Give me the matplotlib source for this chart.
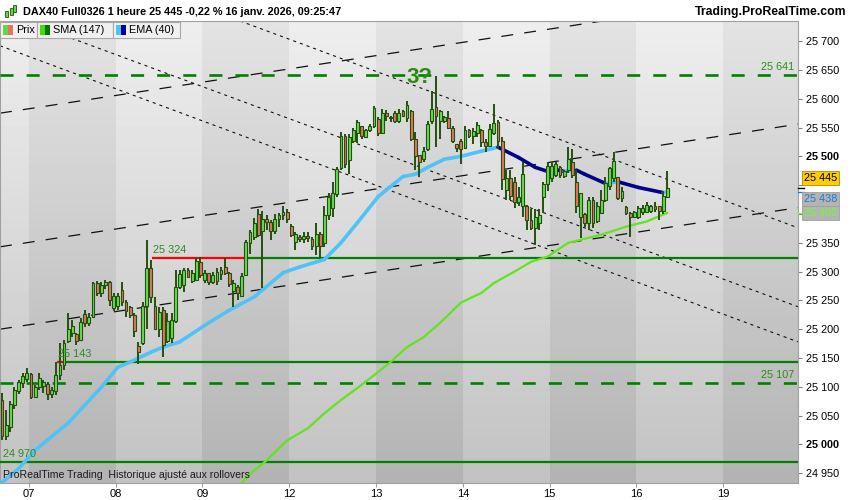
import numpy as np
import matplotlib.pyplot as plt
import matplotlib.transforms as mtransforms
from matplotlib.collections import LineCollection
from matplotlib.patches import Rectangle

plt.rcParams['font.family'] = ['Liberation Sans', 'DejaVu Sans']
plt.rcParams['lines.scale_dashes'] = False

# ---- data : DAX40 Full0326, 1 hour candles (bar 0 = last bars of 06 janv.) ----
day_labels = ['07', '08', '09', '12', '13', '14', '15', '16', '19']
bars_per_day = 21
bars_before_first_day = 7

opens = [25077, 25014, 25030, 25068, 25092, 25106, 25114, 25122, 25083, 25099,
         25102, 25104, 25088, 25092, 25120, 25138, 25180, 25194, 25192, 25182,
         25226, 25210, 25222, 25280, 25262, 25276, 25282, 25236, 25240, 25268,
         25248, 25238, 25224, 25170, 25176, 25240, 25306, 25240, 25200, 25233,
         25180, 25184, 25214, 25274, 25276, 25303, 25284, 25286, 25317, 25286,
         25298, 25282, 25284, 25296, 25308, 25298, 25266, 25274, 25258, 25294,
         25350, 25360, 25400, 25370, 25392, 25386, 25370, 25392, 25398, 25404,
         25380, 25352, 25360, 25356, 25362, 25356, 25344, 25366, 25350, 25398,
         25410, 25434, 25480, 25535, 25494, 25527, 25540, 25552, 25534, 25545,
         25552, 25565, 25540, 25576, 25566, 25576, 25562, 25578, 25566, 25578,
         25530, 25503, 25495, 25512, 25561, 25585, 25561, 25561, 25566, 25550,
         25521, 25526, 25514, 25545, 25535, 25540, 25545, 25525, 25518, 25540,
         25560, 25526, 25442, 25462, 25455, 25420, 25413, 25414, 25390, 25376,
         25385, 25430, 25452, 25462, 25468, 25482, 25466, 25477, 25490, 25455,
         25395, 25400, 25385, 25425, 25388, 25402, 25425, 25448, 25462, 25465,
         25428, 25412, 25402, 25394, 25394, 25404, 25404, 25406, 25414, 25413,
         25405, 25430]
highs = [25090, 25060, 25075, 25100, 25112, 25124, 25132, 25124, 25103, 25124,
         25112, 25108, 25100, 25143, 25176, 25182, 25228, 25216, 25194, 25220,
         25233, 25228, 25282, 25284, 25282, 25286, 25284, 25262, 25262, 25282,
         25250, 25240, 25228, 25178, 25248, 25355, 25320, 25256, 25238, 25238,
         25228, 25228, 25303, 25303, 25306, 25306, 25303, 25324, 25326, 25303,
         25298, 25300, 25306, 25308, 25324, 25300, 25286, 25277, 25298, 25355,
         25373, 25393, 25408, 25405, 25399, 25390, 25400, 25402, 25413, 25408,
         25383, 25368, 25364, 25368, 25368, 25360, 25385, 25369, 25413, 25437,
         25456, 25482, 25542, 25538, 25538, 25550, 25564, 25552, 25547, 25556,
         25587, 25568, 25582, 25580, 25570, 25578, 25582, 25580, 25596, 25580,
         25543, 25503, 25516, 25561, 25613, 25639, 25580, 25570, 25578, 25552,
         25521, 25530, 25552, 25547, 25550, 25560, 25547, 25530, 25556, 25591,
         25564, 25533, 25477, 25477, 25465, 25447, 25490, 25416, 25408, 25408,
         25408, 25455, 25490, 25491, 25491, 25483, 25477, 25516, 25512, 25477,
         25437, 25402, 25430, 25430, 25420, 25442, 25465, 25482, 25507, 25465,
         25447, 25413, 25403, 25405, 25413, 25416, 25420, 25416, 25420, 25413,
         25440, 25474]
lows = [25007, 25007, 25022, 25062, 25088, 25098, 25108, 25078, 25080, 25094,
        25090, 25077, 25081, 25085, 25112, 25130, 25176, 25186, 25172, 25180,
        25204, 25206, 25220, 25258, 25256, 25270, 25240, 25232, 25233, 25240,
        25222, 25220, 25186, 25139, 25172, 25200, 25245, 25199, 25186, 25152,
        25176, 25176, 25210, 25270, 25265, 25288, 25280, 25284, 25289, 25280,
        25277, 25278, 25277, 25286, 25294, 25274, 25238, 25251, 25256, 25292,
        25330, 25355, 25360, 25272, 25373, 25355, 25365, 25378, 25390, 25385,
        25360, 25338, 25352, 25350, 25352, 25338, 25329, 25326, 25343, 25390,
        25395, 25430, 25476, 25480, 25469, 25524, 25524, 25530, 25533, 25542,
        25550, 25535, 25538, 25562, 25560, 25558, 25558, 25568, 25560, 25526,
        25477, 25465, 25490, 25510, 25556, 25517, 25530, 25558, 25547, 25524,
        25507, 25486, 25512, 25532, 25521, 25533, 25516, 25507, 25516, 25537,
        25512, 25442, 25425, 25425, 25411, 25413, 25395, 25373, 25373, 25347,
        25373, 25402, 25440, 25455, 25465, 25463, 25463, 25472, 25463, 25402,
        25358, 25378, 25373, 25376, 25385, 25400, 25420, 25442, 25455, 25425,
        25420, 25399, 25360, 25394, 25392, 25399, 25402, 25402, 25404, 25390,
        25400, 25428]
closes = [25014, 25033, 25070, 25094, 25108, 25118, 25124, 25083, 25099, 25116,
          25108, 25088, 25094, 25120, 25138, 25176, 25200, 25205, 25180, 25212,
          25210, 25222, 25280, 25262, 25276, 25282, 25250, 25258, 25258, 25248,
          25232, 25224, 25196, 25160, 25240, 25306, 25256, 25200, 25230, 25172,
          25215, 25216, 25274, 25296, 25303, 25291, 25298, 25318, 25294, 25298,
          25282, 25294, 25300, 25302, 25298, 25278, 25280, 25262, 25292, 25352,
          25368, 25385, 25364, 25392, 25386, 25370, 25392, 25398, 25404, 25392,
          25364, 25366, 25356, 25362, 25358, 25344, 25366, 25345, 25398, 25430,
          25436, 25478, 25535, 25486, 25534, 25545, 25560, 25536, 25545, 25552,
          25584, 25540, 25576, 25570, 25568, 25562, 25576, 25570, 25590, 25530,
          25500, 25490, 25510, 25556, 25582, 25570, 25578, 25568, 25550, 25526,
          25514, 25512, 25545, 25535, 25544, 25555, 25525, 25518, 25548, 25558,
          25526, 25460, 25462, 25432, 25420, 25430, 25470, 25390, 25376, 25395,
          25398, 25452, 25484, 25484, 25486, 25468, 25474, 25495, 25468, 25413,
          25437, 25385, 25425, 25385, 25414, 25425, 25454, 25480, 25492, 25428,
          25440, 25402, 25394, 25403, 25410, 25410, 25415, 25414, 25408, 25405,
          25432, 25445]

# EMA(40) and SMA(147) at some bars
ema_bars = [0, 4, 8, 16, 24, 28, 31, 36, 39, 43, 50, 55, 61, 68, 72, 78, 82, 86, 91, 97,
            100, 103, 107, 111, 116, 120, 125, 129, 132, 134, 136, 139, 141, 146, 149,
            154, 160, 161]
ema_vals = [24934, 24958, 24990, 25037, 25099, 25134, 25143, 25160, 25169, 25178,
            25211, 25233, 25256, 25298, 25308, 25321, 25350, 25385, 25430, 25465,
            25469, 25481, 25495, 25500, 25509, 25516, 25498, 25481, 25474, 25477,
            25474, 25476, 25469, 25453, 25456, 25446, 25437, 25438]
sma_bars = [55, 60, 64, 69, 74, 78, 82, 86, 90, 94, 98, 102, 106, 111, 116, 119, 124,
            128, 132, 137, 145, 151, 156, 161]
sma_vals = [24909, 24949, 24972, 25007, 25028, 25054, 25077, 25098, 25120, 25143,
            25169, 25186, 25211, 25246, 25263, 25280, 25300, 25317, 25326, 25350,
            25364, 25378, 25387, 25402]

# drawn trend lines (bar, price) pairs
channel_lines = [((57.6, 25735), (168.9, 25439)),
                 ((-0.5, 25751), (192.6, 25239)),
                 ((-0.5, 25692), (192.6, 25178))]
rising_lines = [((-0.5, 25575), (192.6, 25787)),
                ((-0.5, 25343), (192.6, 25556)),
                ((-0.5, 25200), (192.6, 25411))]

# horizontal levels
dashed_levels = [25641, 25107]
solid_levels = [25324, 25143, 24970]
level_start_bar = [36.3, 13.3, -0.5]   # red part begins
level_break_bar = [59.3, 15.2, -0.5]   # turns green

last_price = 25445
header = 'DAX40 Full0326 1 heure 25 445 -0,22 % 16 janv. 2026, 09:25:47'

# ---- figure ----
W, H = 850, 500
fig = plt.figure(figsize=(8.5, 5), dpi=100, facecolor='white')
ax = fig.add_axes([0, 17 / H, 798 / W, 462 / H])
x0, x1 = -0.5, 192.6
y0, y1 = 24933, 25735
ax.set_xlim(x0, x1)
ax.set_ylim(y0, y1)

# background bands, one per trading day, with a vertical gradient
xs = np.linspace(x0, x1, 800)
k = np.floor((xs - (bars_before_first_day - 0.5)) / bars_per_day)
dark = (k >= 0) & (k % 2 == 0)
t = np.linspace(0, 1, 300)[:, None]
light_col = (238 - 44 * t) / 255
dark_col = (227 - 48 * t) / 255
bg = np.where(dark[None, :], dark_col, light_col)
ax.imshow(bg, cmap='gray', vmin=0, vmax=1, extent=(x0, x1, y0, y1), origin='upper',
          aspect='auto', interpolation='nearest', zorder=0)

# trend lines
for p, q in channel_lines:
    ax.axline(p, q, color='#111111', lw=0.8, ls=(0, (2.2, 2.9)), zorder=2)
for p, q in rising_lines:
    ax.axline(p, q, color='#111111', lw=0.9, ls=(0, (8.6, 8.0)), zorder=2)

# horizontal levels
green = '#008000'
lab_col = '#2c8c1e'
for lv in dashed_levels:
    ax.axhline(lv, color=green, lw=1.9, ls=(0, (9.4, 9.4)), zorder=3)
for lv, s, b in zip(solid_levels, level_start_bar, level_break_bar):
    ax.plot([s, b], [lv, lv], color='#ff0000', lw=1.6, zorder=3, solid_capstyle='butt')
    ax.plot([b, x1], [lv, lv], color=green, lw=1.6, zorder=3, solid_capstyle='butt')

def fmt(v):
    return f'{int(v):,}'.replace(',', ' ')

blend = mtransforms.blended_transform_factory(ax.transAxes, ax.transData)
for lv in dashed_levels:
    ax.annotate(fmt(lv), xy=(1, lv), xycoords=blend, xytext=(-4, 3),
                textcoords='offset pixels', ha='right', va='bottom',
                fontsize=7.8, color=lab_col, zorder=8)
for lv, s in zip(solid_levels[:2], level_start_bar[:2]):
    ax.annotate(fmt(lv), xy=(s, lv), xytext=(1, 3), textcoords='offset pixels',
                ha='left', va='bottom', fontsize=7.8, color=lab_col, zorder=8)
ax.annotate(fmt(solid_levels[2]), xy=(0.004, solid_levels[2]), xycoords=blend,
            xytext=(0, 3), textcoords='offset pixels', ha='left', va='bottom',
            fontsize=7.8, color=lab_col, zorder=8)
ax.annotate('3?', xy=(101, dashed_levels[0]), xytext=(0, -8), textcoords='offset pixels',
            ha='center', va='baseline', fontsize=16, fontweight='bold',
            color='#2a8a10', zorder=8)

# moving averages
sx, sy = np.array(sma_bars), np.array(sma_vals)
ax.plot(sx, sy, color='#62e41e', lw=1.6, zorder=4, solid_capstyle='round')

ex, ey = np.array(ema_bars), np.array(ema_vals)
pts = np.column_stack([ex, ey])
segs = np.stack([pts[:-1], pts[1:]], axis=1)
seg_cols = ['#4fc3f7' if d >= 0 else '#000088' for d in np.diff(ey)]
ax.add_collection(LineCollection(segs, colors=seg_cols, linewidths=2.6,
                                 capstyle='round', zorder=4))

# candles
o, h, l, c = map(np.array, (opens, highs, lows, closes))
xb = np.arange(len(c))
up = c >= o
edge = '#24500f'
ax.vlines(xb, l, h, color=edge, lw=1.4, zorder=5)
ax.bar(xb, np.maximum(np.abs(c - o), 2), bottom=np.minimum(o, c), width=0.68,
       color=np.where(up, '#62e04c', '#e6735f'), edgecolor=edge, linewidth=0.8, zorder=6)

# axes styling
for sp in ax.spines.values():
    sp.set_color('#a0a0a0')
    sp.set_linewidth(0.8)

# value tags on the price scale
tags = [(last_price, 10, '#ffcc00', '#b08a00', 'black'),
        (ema_vals[-1], -7, '#b4b4b4', '#a0a0a0', '#1e7ad8'),
        (sma_vals[-1], 0, '#b4b4b4', '#a0a0a0', '#6cff2a')]

yt = list(range(24950, 25701, 50))
# scale labels hidden behind the value tags are left empty
covered = {v for v in yt if any(abs(v - tv) < 25 for tv, *_ in tags)}
ax.yaxis.tick_right()
ax.set_yticks(yt, ['' if v in covered else fmt(v) for v in yt])
for lab in ax.get_yticklabels():
    if lab.get_text() in ('25 000', '25 500'):
        lab.set_fontweight('bold')
ax.tick_params(axis='y', length=3, color='#808080', labelsize=7.8, pad=3)
day_starts = [bars_before_first_day - 0.5 + bars_per_day * i for i in range(len(day_labels))]
ax.set_xticks(day_starts, day_labels)
ax.tick_params(axis='x', length=3, color='#a0a0a0', labelsize=8, pad=1)

for v, dy, fc, ec, tc in tags:
    tr = mtransforms.offset_copy(blend, fig=fig, x=6, y=dy, units='dots')
    ax.text(1, v, fmt(v), transform=tr, ha='left', va='center', fontsize=7.8,
            color=tc, clip_on=False, zorder=10,
            bbox=dict(boxstyle='square,pad=0.18', fc=fc, ec=ec, lw=0.6))
    ax.plot([1, 1.007], [v, v], transform=blend, clip_on=False,
            color=tc, lw=1, zorder=9)

ax.text(0.004, 0.017, 'ProRealTime Trading  Historique ajusté aux rollovers',
        transform=ax.transAxes, fontsize=7.6, va='center', ha='left',
        color='#1a1a1a', zorder=9)

# header and legend strip (pixel layout)
def fx(px):
    return px / W

def fy(py):
    return 1 - py / H

fig.text(fx(23), fy(12), header, ha='left', va='center', fontsize=7.8, fontweight='bold')
fig.text(fx(846), fy(12), 'Trading.ProRealTime.com', ha='right', va='center',
         fontsize=8.8, fontweight='bold')
for cx, top, bot in [(6, 11, 17), (11, 8, 15), (15, 5, 12)]:
    fig.add_artist(Rectangle((fx(cx - 1.5), fy(bot)), 3 / W, (bot - top) / H,
                             transform=fig.transFigure, fc='#5fd94a', ec=edge, lw=0.6))

boxes = [(0, 37, 'Prix', ('#5fd94a', '#e6735f')),
         (37, 113, 'SMA (147)', ('#44dd00', '#007700')),
         (113, 180, 'EMA (40)', ('#4fc3f7', '#000099'))]
for bx0, bx1, txt, (c1, c2) in boxes:
    fig.add_artist(Rectangle((fx(bx0), fy(38)), (bx1 - bx0) / W, 16 / H,
                             transform=fig.transFigure, fc='#f0f0f0', ec='#a8a8a8', lw=0.8))
    fig.add_artist(Rectangle((fx(bx0 + 3), fy(35)), 5 / W, 10 / H,
                             transform=fig.transFigure, fc=c1, ec='none'))
    fig.add_artist(Rectangle((fx(bx0 + 8), fy(35)), 5 / W, 10 / H,
                             transform=fig.transFigure, fc=c2, ec='none'))
    fig.text(fx(bx0 + 16), fy(30), txt, ha='left', va='center', fontsize=7.8)

fig.savefig('out.png', dpi=100, facecolor='white')
